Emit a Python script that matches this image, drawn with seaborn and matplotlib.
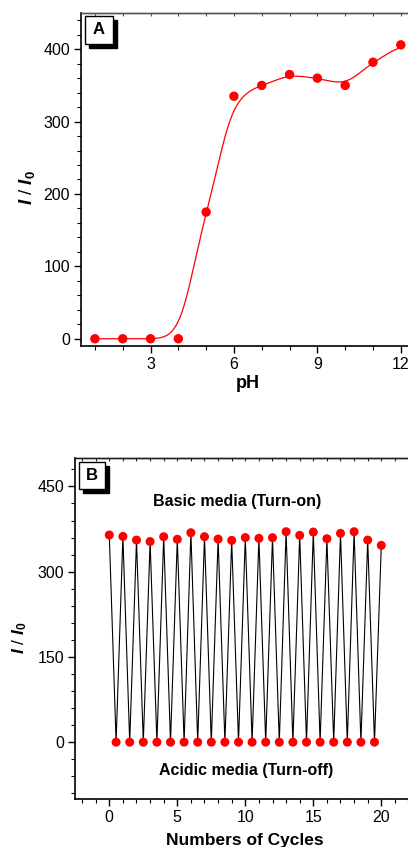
import numpy as np
import pandas as pd
import matplotlib
matplotlib.use("Agg")
import matplotlib.pyplot as plt
import seaborn as sns
from matplotlib.patches import Rectangle
from matplotlib.ticker import MultipleLocator

# ---------------- data ----------------
ph_values = [1, 2, 3, 4, 5, 6, 7, 8, 9, 10, 11, 12]
ph_ratio = [0, 0, 0, 0, 175, 335, 350, 365, 360, 350, 382, 406]

cycle_on_x = [0, 1, 2, 3, 4, 5, 6, 7, 8, 9, 10, 11, 12, 13, 14, 15, 16, 17, 18, 19, 20]
cycle_on_ratio = [364.5, 362, 355.6, 353, 361.5, 357, 368.5, 361.5, 357.4, 355, 360,
                  358.6, 359.8, 370.3, 363.9, 369.7, 358, 367.4, 370.3, 355.6, 346.3]
cycle_off_x = [0.5, 1.5, 2.5, 3.5, 4.5, 5.5, 6.5, 7.5, 8.5, 9.5, 10.5, 11.5, 12.5,
               13.5, 14.5, 15.5, 16.5, 17.5, 18.5, 19.5]
cycle_off_ratio = [0] * 20

# ---------------- style ----------------
sns.set_theme(style="ticks")
plt.rcParams['font.family'] = ['Liberation Sans', 'DejaVu Sans']
plt.rcParams['text.color'] = 'black'
plt.rcParams['axes.labelcolor'] = 'black'
plt.rcParams['xtick.color'] = 'black'
plt.rcParams['ytick.color'] = 'black'
plt.rcParams['mathtext.fontset'] = 'custom'
plt.rcParams['mathtext.rm'] = 'Liberation Sans:bold'
plt.rcParams['mathtext.it'] = 'Liberation Sans:italic:bold'
plt.rcParams['mathtext.bf'] = 'Liberation Sans:bold'

W, H = 408, 847
fig = plt.figure(figsize=(W / 100, H / 100), dpi=100)


def frac_box(left, top, right, bottom):
    return [left / W, 1 - bottom / H, (right - left) / W, (bottom - top) / H]


def style_axes(ax, xmaj, xmin, ymaj, ymin, topcolor):
    ax.xaxis.set_major_locator(MultipleLocator(xmaj))
    ax.xaxis.set_minor_locator(MultipleLocator(xmin))
    ax.yaxis.set_major_locator(MultipleLocator(ymaj))
    ax.yaxis.set_minor_locator(MultipleLocator(ymin))
    ax.tick_params(axis='both', which='major', direction='out', length=5, width=1,
                   labelsize=11.5, colors='black', labelcolor='black', pad=3)
    ax.tick_params(axis='both', which='minor', direction='out', length=3, width=0.8,
                   colors='black')
    ax.tick_params(top=False, right=False)
    for s in ['left', 'bottom']:
        ax.spines[s].set_linewidth(1.2)
        ax.spines[s].set_color('black')
    ax.spines['top'].set_visible(True)
    ax.spines['top'].set_linewidth(1.0)
    ax.spines['top'].set_color(topcolor)
    ax.spines['right'].set_visible(False)
    sec = ax.secondary_xaxis('top')
    sec.xaxis.set_major_locator(MultipleLocator(xmin))
    sec.tick_params(which='major', direction='in', length=2.5, width=0.8,
                    labeltop=False, colors=topcolor)
    sec.spines['top'].set_color(topcolor)
    sec.spines['top'].set_linewidth(1.0)
    ax.grid(False)


def panel_label(letter, left, top, right, bottom, off=4):
    fig.add_artist(Rectangle(((left + off) / W, 1 - (bottom + off) / H),
                             (right - left) / W, (bottom - top) / H,
                             transform=fig.transFigure, facecolor='black',
                             edgecolor='black', lw=1, zorder=10))
    fig.add_artist(Rectangle((left / W, 1 - bottom / H),
                             (right - left) / W, (bottom - top) / H,
                             transform=fig.transFigure, facecolor='white',
                             edgecolor='black', lw=1, zorder=11))
    fig.text((left + right) / 2 / W, 1 - (top + bottom) / 2 / H, letter,
             ha='center', va='center', fontsize=12, fontweight='bold',
             color='black', zorder=12)


# ---------------- panel A ----------------
axA = fig.add_axes(frac_box(81, 13, 414.7, 346))
xA = np.asarray(ph_values, dtype=float)
yA = np.asarray(ph_ratio, dtype=float)
xs = np.linspace(xA.min(), xA.max(), 400)
wts = np.exp(-((xs[:, None] - xA[None, :]) ** 2) / (2 * 0.55 ** 2))
ys = (wts * yA[None, :]).sum(axis=1) / wts.sum(axis=1)
curve = pd.DataFrame({'pH': xs, 'ratio': ys})
sns.lineplot(data=curve, x='pH', y='ratio', ax=axA, color='#ff0000', lw=0.9,
             estimator=None, sort=False)
sns.scatterplot(x=ph_values, y=ph_ratio, ax=axA, color='#ff0000', s=46,
                edgecolor='none', zorder=3)
axA.set_xlim(0.5, 12.5)
axA.set_ylim(-10, 450)
style_axes(axA, 3, 1, 100, 20, '#555555')
axA.set_xlabel('pH', fontsize=13, fontweight='bold', labelpad=2)
axA.set_ylabel(r'$I$ / $I_\mathit{0}$', fontsize=13.5)
axA.yaxis.set_label_coords(-0.132, 0.476)
panel_label('A', 85, 16, 113, 44)

# ---------------- panel B ----------------
axB = fig.add_axes(frac_box(75.3, 458, 415.3, 799))
xB = []
yB = []
for i in range(len(cycle_on_x)):
    xB.append(cycle_on_x[i]); yB.append(cycle_on_ratio[i])
    if i < len(cycle_off_x):
        xB.append(cycle_off_x[i]); yB.append(cycle_off_ratio[i])
dfB = pd.DataFrame({'cycle': xB, 'ratio': yB})
sns.lineplot(data=dfB, x='cycle', y='ratio', ax=axB, color='black', lw=0.8,
             estimator=None, sort=False)
sns.scatterplot(data=dfB, x='cycle', y='ratio', ax=axB, color='#ff0000', s=42,
                edgecolor='none', zorder=3)
axB.set_xlim(-2.5, 22.5)
axB.set_ylim(-100, 500)
style_axes(axB, 5, 1, 150, 30, '#222222')
axB.set_xlabel('Numbers of Cycles', fontsize=12.5, fontweight='bold', labelpad=6)
axB.set_ylabel(r'$I$ / $I_\mathit{0}$', fontsize=12.5)
axB.yaxis.set_label_coords(-0.136, 0.473)
axB.text(9.37, 424, 'Basic media (Turn-on)', ha='center', va='center',
         fontsize=11.5, fontweight='bold')
axB.text(10.05, -49, 'Acidic media (Turn-off)', ha='center', va='center',
         fontsize=11.5, fontweight='bold')
panel_label('B', 79, 462, 105, 489)

fig.savefig('out.png', dpi=100)
